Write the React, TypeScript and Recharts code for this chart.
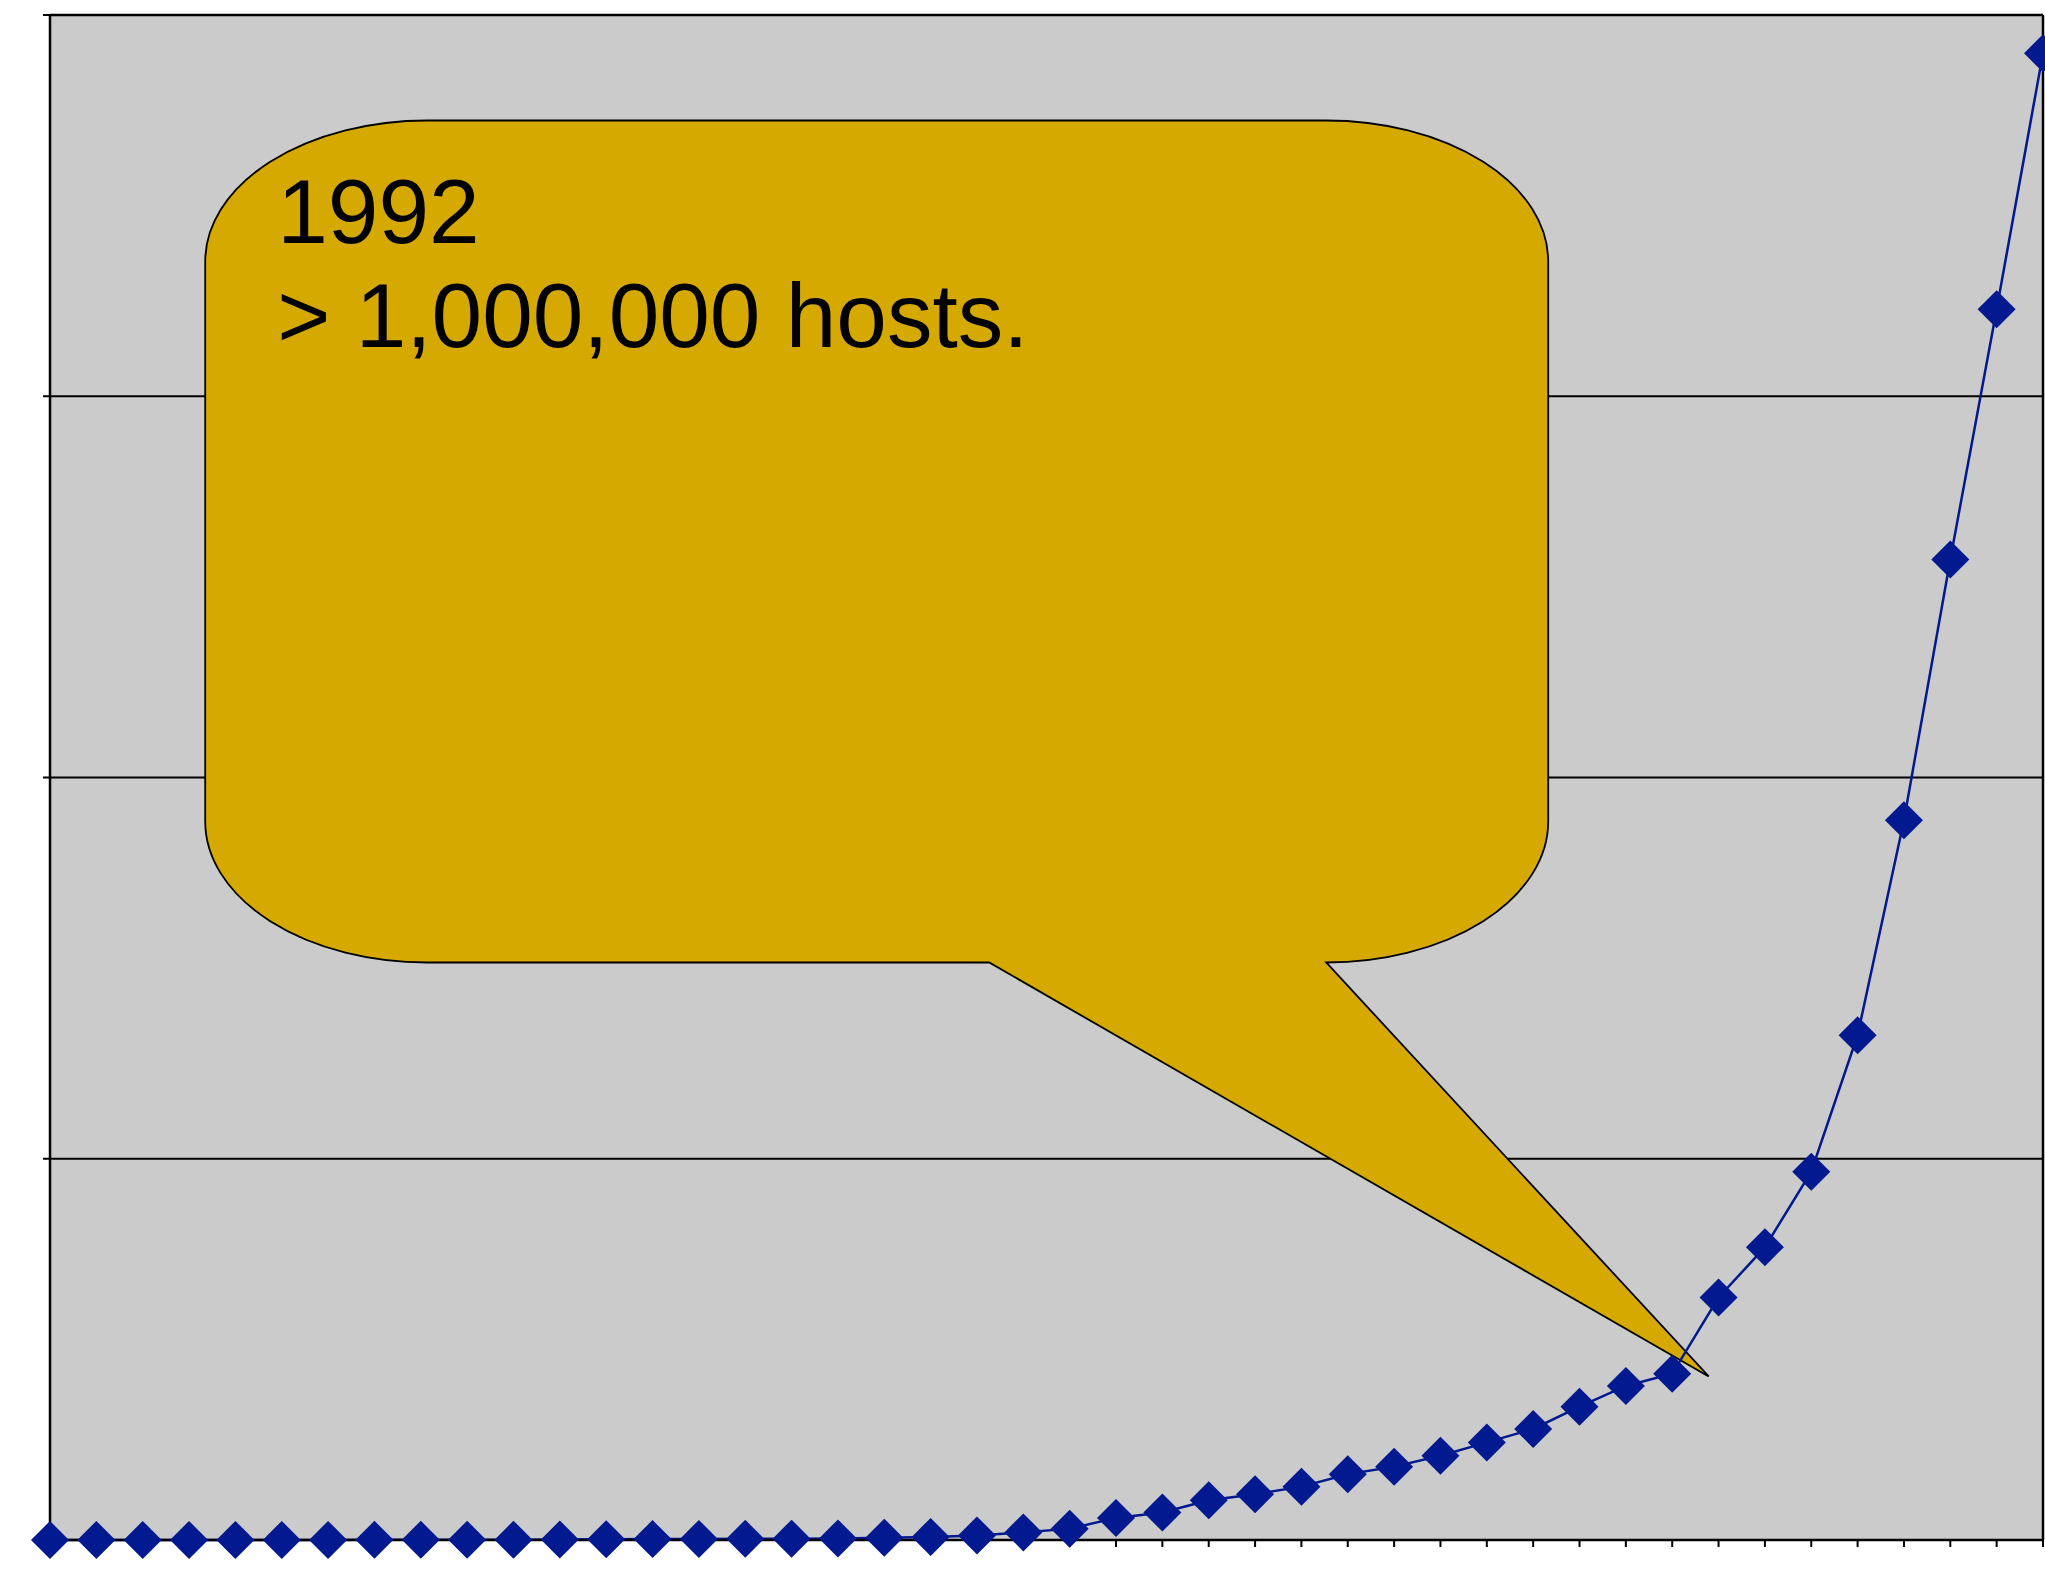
import React from "react";
import {
  LineChart,
  Line,
  XAxis,
  YAxis,
  CartesianGrid,
  ReferenceLine,
  ReferenceDot,
} from "recharts";

// 44 equally spaced observations (internet host counts)
const categories: string[] = [
  "1", "2", "3", "4", "5", "6", "7", "8", "9", "10", "11",
  "12", "13", "14", "15", "16", "17", "18", "19", "20", "21", "22",
  "23", "24", "25", "26", "27", "28", "29", "30", "31", "32", "33",
  "34", "35", "36", "37", "38", "39", "40", "41", "42", "43", "44",
];

const hosts: number[] = [
  200, 200, 250, 300, 400, 560, 700, 1000, 1500, 2000, 2300,
  3000, 5000, 6000, 7000, 8000, 9000, 10000, 15000, 20000, 30000, 50000,
  74000, 145000, 180000, 260000, 300000, 350000, 431000, 481000, 553000, 640000, 728000,
  874000, 1010000, 1090000, 1590000, 1920000, 2415000, 3310000, 4720000, 6430000, 8070000, 9750000,
];

const yTicks: number[] = [0, 2500000, 5000000, 7500000, 10000000];

const calloutIndex = 35;
const calloutLines: string[] = ["1992", "> 1,000,000 hosts."];

const data = categories.map((c, i) => ({ label: c, hosts: hosts[i] }));

const BLUE = "#021990";
const GOLD = "#D5A900";
const GRAY = "#CBCBCB";
const FONT = "'Liberation Sans', Arial, Helvetica, sans-serif";

const EmptyTick = () => <g />;

const Diamond = (props: any) => {
  const { cx, cy, index } = props;
  if (cx == null || cy == null) return <g key={`d-${index}`} />;
  const h = 19;
  return (
    <path
      key={`d-${index}`}
      d={`M${cx},${cy - h}L${cx + h},${cy}L${cx},${cy + h}L${cx - h},${cy}Z`}
      fill={BLUE}
      stroke="none"
    />
  );
};

const Callout = (props: any) => {
  const { cx, cy } = props;
  if (cx == null || cy == null) return <g />;
  const tx = cx + 36.5;
  const ty = cy + 2.7;
  const L = tx - 1503.5;
  const R = tx - 160.5;
  const T = ty - 1256;
  const B = ty - 414;
  const PB = tx - 719.5;
  const rx = 222;
  const ry = 141;
  const d = [
    `M${L + rx},${T}`,
    `H${R - rx}`,
    `A${rx},${ry} 0 0 1 ${R},${T + ry}`,
    `V${B - ry}`,
    `A${rx},${ry} 0 0 1 ${R - rx},${B}`,
    `L${tx},${ty}`,
    `L${PB},${B}`,
    `H${L + rx}`,
    `A${rx},${ry} 0 0 1 ${L},${B - ry}`,
    `V${T + ry}`,
    `A${rx},${ry} 0 0 1 ${L + rx},${T}`,
    "Z",
  ].join(" ");
  return (
    <g>
      <path d={d} fill={GOLD} stroke="#000" strokeWidth={1.8} strokeLinejoin="miter" />
      <text x={tx - 1431.5} y={ty - 1133.2} fontSize={91} fontFamily={FONT} fill="#000">
        {calloutLines[0]}
      </text>
      <text x={tx - 1431.5} y={ty - 1029.8} fontSize={91} fontFamily={FONT} fill="#000">
        {calloutLines[1]}
      </text>
    </g>
  );
};

export default function App() {
  return (
    <div
      style={{
        position: "fixed",
        left: 0,
        top: 0,
        width: 2045,
        height: 1574,
        overflow: "hidden",
        background: "#fff",
      }}
    >
      <LineChart
        width={2045}
        height={1574}
        data={data}
        margin={{ top: 15, right: 2, bottom: 24, left: 40 }}
      >
        <CartesianGrid
          vertical={false}
          horizontal={true}
          fill={GRAY}
          fillOpacity={1}
          stroke="#000"
          strokeWidth={2}
          strokeOpacity={1}
        />
        <XAxis
          dataKey="label"
          type="category"
          interval={0}
          tick={<EmptyTick />}
          tickSize={7}
          height={10}
          padding={{ left: 0, right: 0 }}
          axisLine={{ stroke: "#000", strokeWidth: 2.5 }}
          tickLine={{ stroke: "#000", strokeWidth: 2 }}
        />
        <YAxis
          type="number"
          domain={[0, 10000000]}
          ticks={yTicks}
          interval={0}
          tick={<EmptyTick />}
          tickSize={7}
          width={10}
          axisLine={{ stroke: "#000", strokeWidth: 2.5 }}
          tickLine={{ stroke: "#000", strokeWidth: 2 }}
        />
        <ReferenceLine
          x={categories[categories.length - 1]}
          stroke="#000"
          strokeWidth={2.5}
          ifOverflow="visible"
        />
        <ReferenceLine
          y={yTicks[yTicks.length - 1]}
          stroke="#000"
          strokeWidth={2.5}
          ifOverflow="visible"
        />
        <ReferenceDot
          x={categories[calloutIndex]}
          y={hosts[calloutIndex]}
          ifOverflow="visible"
          zIndex={300}
          shape={(p: any) => <Callout {...p} />}
        />
        <Line
          type="linear"
          dataKey="hosts"
          stroke={BLUE}
          strokeWidth={2.5}
          dot={(p: any) => <Diamond key={`dot-${p.index}`} {...p} />}
          activeDot={false}
          isAnimationActive={false}
        />
      </LineChart>
    </div>
  );
}
